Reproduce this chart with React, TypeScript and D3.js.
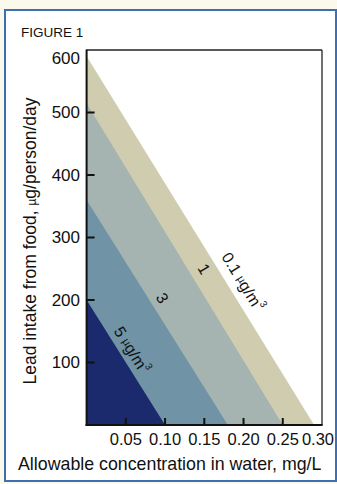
import React from "react";
import * as d3 from "d3";

// Data
const levels = ["0.1", "1", "3", "5"]; // air lead, µg/m³
const foodIntercepts = [590, 515, 360, 200]; // µg/person/day at zero water conc.
const waterIntercepts = [0.29, 0.25, 0.18, 0.1]; // mg/L at zero food intake
const labelFood = [217, 238, 193, 110]; // food level where each label sits
const yTicks = [100, 200, 300, 400, 500, 600];
const xTicks = [0.05, 0.1, 0.15, 0.2, 0.25, 0.3];

const bandColors = ["#cfccb0", "#a6b4b1", "#7093a5", "#1b2a6c"];
const labelOffsets = [15, 14, 12, 12];

const W = 337;
const H = 484;
const left = 86.6;
const right = 322;
const top = 50;
const bottom = 425;

export default function App() {
  const x = d3.scaleLinear().domain([0, 0.3]).range([left, right]);
  const y = d3.scaleLinear().domain([0, 600]).range([bottom, top]);
  const area = d3
    .line<[number, number]>()
    .x((d) => x(d[0]))
    .y((d) => y(d[1]));

  const font = "'Liberation Sans', Arial, Helvetica, sans-serif";

  const labels = levels.map((lv, i) => {
    const a = foodIntercepts[i];
    const b = waterIntercepts[i];
    const dx = x(b) - x(0);
    const dy = y(0) - y(a);
    const theta = Math.atan2(dy, dx);
    const f = labelFood[i];
    const c = (b * (a - f)) / a;
    const px = x(c);
    const py = y(f);
    const off = labelOffsets[i];
    const cx = px + Math.sin(theta) * off;
    const cy = py - Math.cos(theta) * off;
    return { lv, cx, cy, deg: (theta * 180) / Math.PI, i };
  });

  return (
    <svg
      width={W}
      height={H}
      style={{ position: "absolute", left: 0, top: 0, background: "#fbf9ec" }}
      fontFamily={font}
    >
      <rect x={5} y={10} width={331} height={471} fill="#ffffff" stroke="#3d6fb3" strokeWidth={2} />
      <text x={21} y={37} fontSize={13.5} fill="#111">
        FIGURE 1
      </text>

      {levels.map((lv, i) => (
        <path
          key={lv}
          d={
            area([
              [0, 0],
              [0, foodIntercepts[i]],
              [waterIntercepts[i], 0],
            ]) + "Z"
          }
          fill={bandColors[i]}
        />
      ))}

      {labels.map((l) => (
        <text
          key={l.lv}
          transform={`translate(${l.cx},${l.cy}) rotate(${l.deg})`}
          textAnchor="middle"
          dominantBaseline="central"
          fontSize={16}
          fill="#111"
        >
          {l.i === 0 || l.i === 3 ? (
            <>
              <tspan>{l.lv} </tspan>
              <tspan fontSize={11}>µ</tspan>
              <tspan>g/m</tspan>
              <tspan fontSize={10} dy={-6}>
                3
              </tspan>
            </>
          ) : (
            l.lv
          )}
        </text>
      ))}

      {/* plot frame: heavier left/bottom axes, lighter top/right */}
      <line x1={left} x2={right} y1={top} y2={top} stroke="#222" strokeWidth={1.3} />
      <line x1={right} x2={right} y1={top} y2={bottom} stroke="#222" strokeWidth={1.3} />
      <line x1={left} x2={left} y1={top - 0.6} y2={bottom + 1} stroke="#111" strokeWidth={2} />
      <line x1={left - 1} x2={right + 0.6} y1={bottom} y2={bottom} stroke="#111" strokeWidth={2} />

      {yTicks.map((t) => (
        <g key={t}>
          {t < 600 && (
            <line x1={left} x2={left + 8} y1={y(t)} y2={y(t)} stroke="#111" strokeWidth={2} />
          )}
          <text
            x={80}
            y={y(t) + (t === 600 ? 8 : 0)}
            textAnchor="end"
            dominantBaseline="central"
            fontSize={17}
            fill="#111"
          >
            {t}
          </text>
        </g>
      ))}

      {xTicks.map((t) => (
        <g key={t}>
          {t < 0.3 && (
            <line x1={x(t)} x2={x(t)} y1={bottom} y2={bottom - 7} stroke="#111" strokeWidth={2} />
          )}
          <text
            x={x(t) - (t === 0.3 ? 4 : 0)}
            y={445}
            textAnchor="middle"
            fontSize={16.5}
            fill="#111"
          >
            {t.toFixed(2)}
          </text>
        </g>
      ))}

      <text x={18} y={470} fontSize={17.8} fill="#111">
        Allowable concentration in water, mg/L
      </text>
      <text
        transform="translate(36,241) rotate(-90)"
        textAnchor="middle"
        fontSize={17.5}
        fill="#111"
      >
        Lead intake from food, <tspan fontSize={12}>µ</tspan>g/person/day
      </text>
    </svg>
  );
}
